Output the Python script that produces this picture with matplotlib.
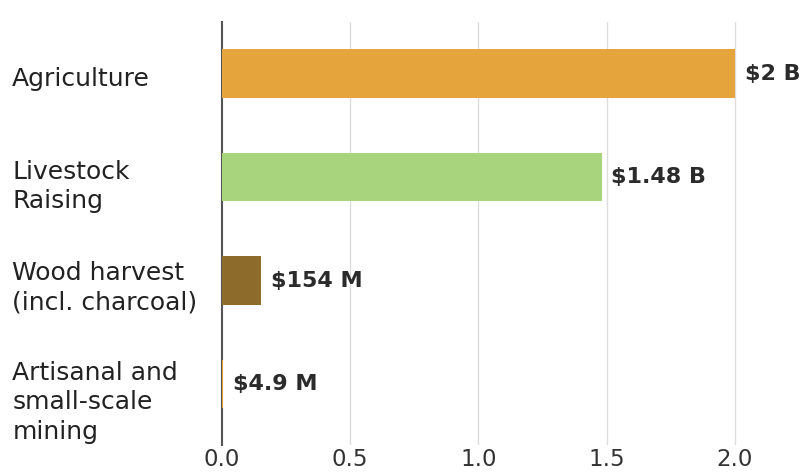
import matplotlib
matplotlib.use("Agg")
import matplotlib.pyplot as plt
import matplotlib.transforms as mtransforms

# data
categories = ["Agriculture", "Livestock\nRaising", "Wood harvest\n(incl. charcoal)",
              "Artisanal and\nsmall-scale\nmining"]
values_bn = [2.0, 1.48, 0.154, 0.0049]
value_labels = ["$2 B", "$1.48 B", "$154 M", "$4.9 M"]
bar_colors = ["#E5A53C", "#A8D47E", "#8C6B2B", "#E2A232"]
x_ticks = [0.0, 0.5, 1.0, 1.5, 2.0]

plt.rcParams["font.family"] = ["DejaVu Sans"]

fig = plt.figure(figsize=(8.08, 4.72), dpi=100)
ax = fig.add_axes([222 / 808, 27 / 472, 1 - 222 / 808, 423 / 472])

pos = list(range(len(categories)))
ax.barh(pos, values_bn, height=0.47, color=bar_colors, zorder=4)

for p, v, lab in zip(pos, values_bn, value_labels):
    ax.annotate(lab, xy=(v, p), xytext=(7, 0), textcoords="offset points",
                va="center", ha="left", fontsize=16, fontweight="bold",
                color="#2b2b2b")

ax.set_xlim(0, 2.285)
ax.set_ylim(3.59, -0.5)

ax.set_xticks(x_ticks)
ax.set_xticklabels(["%.1f" % t for t in x_ticks])
ax.set_yticks(pos)
ax.set_yticklabels(categories, ha="left", linespacing=1.3)

ax.tick_params(axis="x", length=0, pad=2, labelsize=16.5, labelcolor="#333333")
ax.tick_params(axis="y", length=0, pad=151, labelsize=18, labelcolor="#222222")

# the last label sits a bit lower than its bar in the original
shifts = [-3, -4, -2, -13]
for lbl, dy in zip(ax.get_yticklabels(), shifts):
    lbl.set_transform(lbl.get_transform() +
                      mtransforms.ScaledTranslation(0, dy / 100, fig.dpi_scale_trans))

for t in x_ticks[1:]:
    ax.axvline(t, color="#dddddd", linewidth=1.0, zorder=1)

for side in ["top", "right", "bottom"]:
    ax.spines[side].set_visible(False)
ax.spines["left"].set_color("#555555")
ax.spines["left"].set_linewidth(1.5)
ax.spines["left"].set_zorder(3)

fig.savefig("out.png", dpi=100)
